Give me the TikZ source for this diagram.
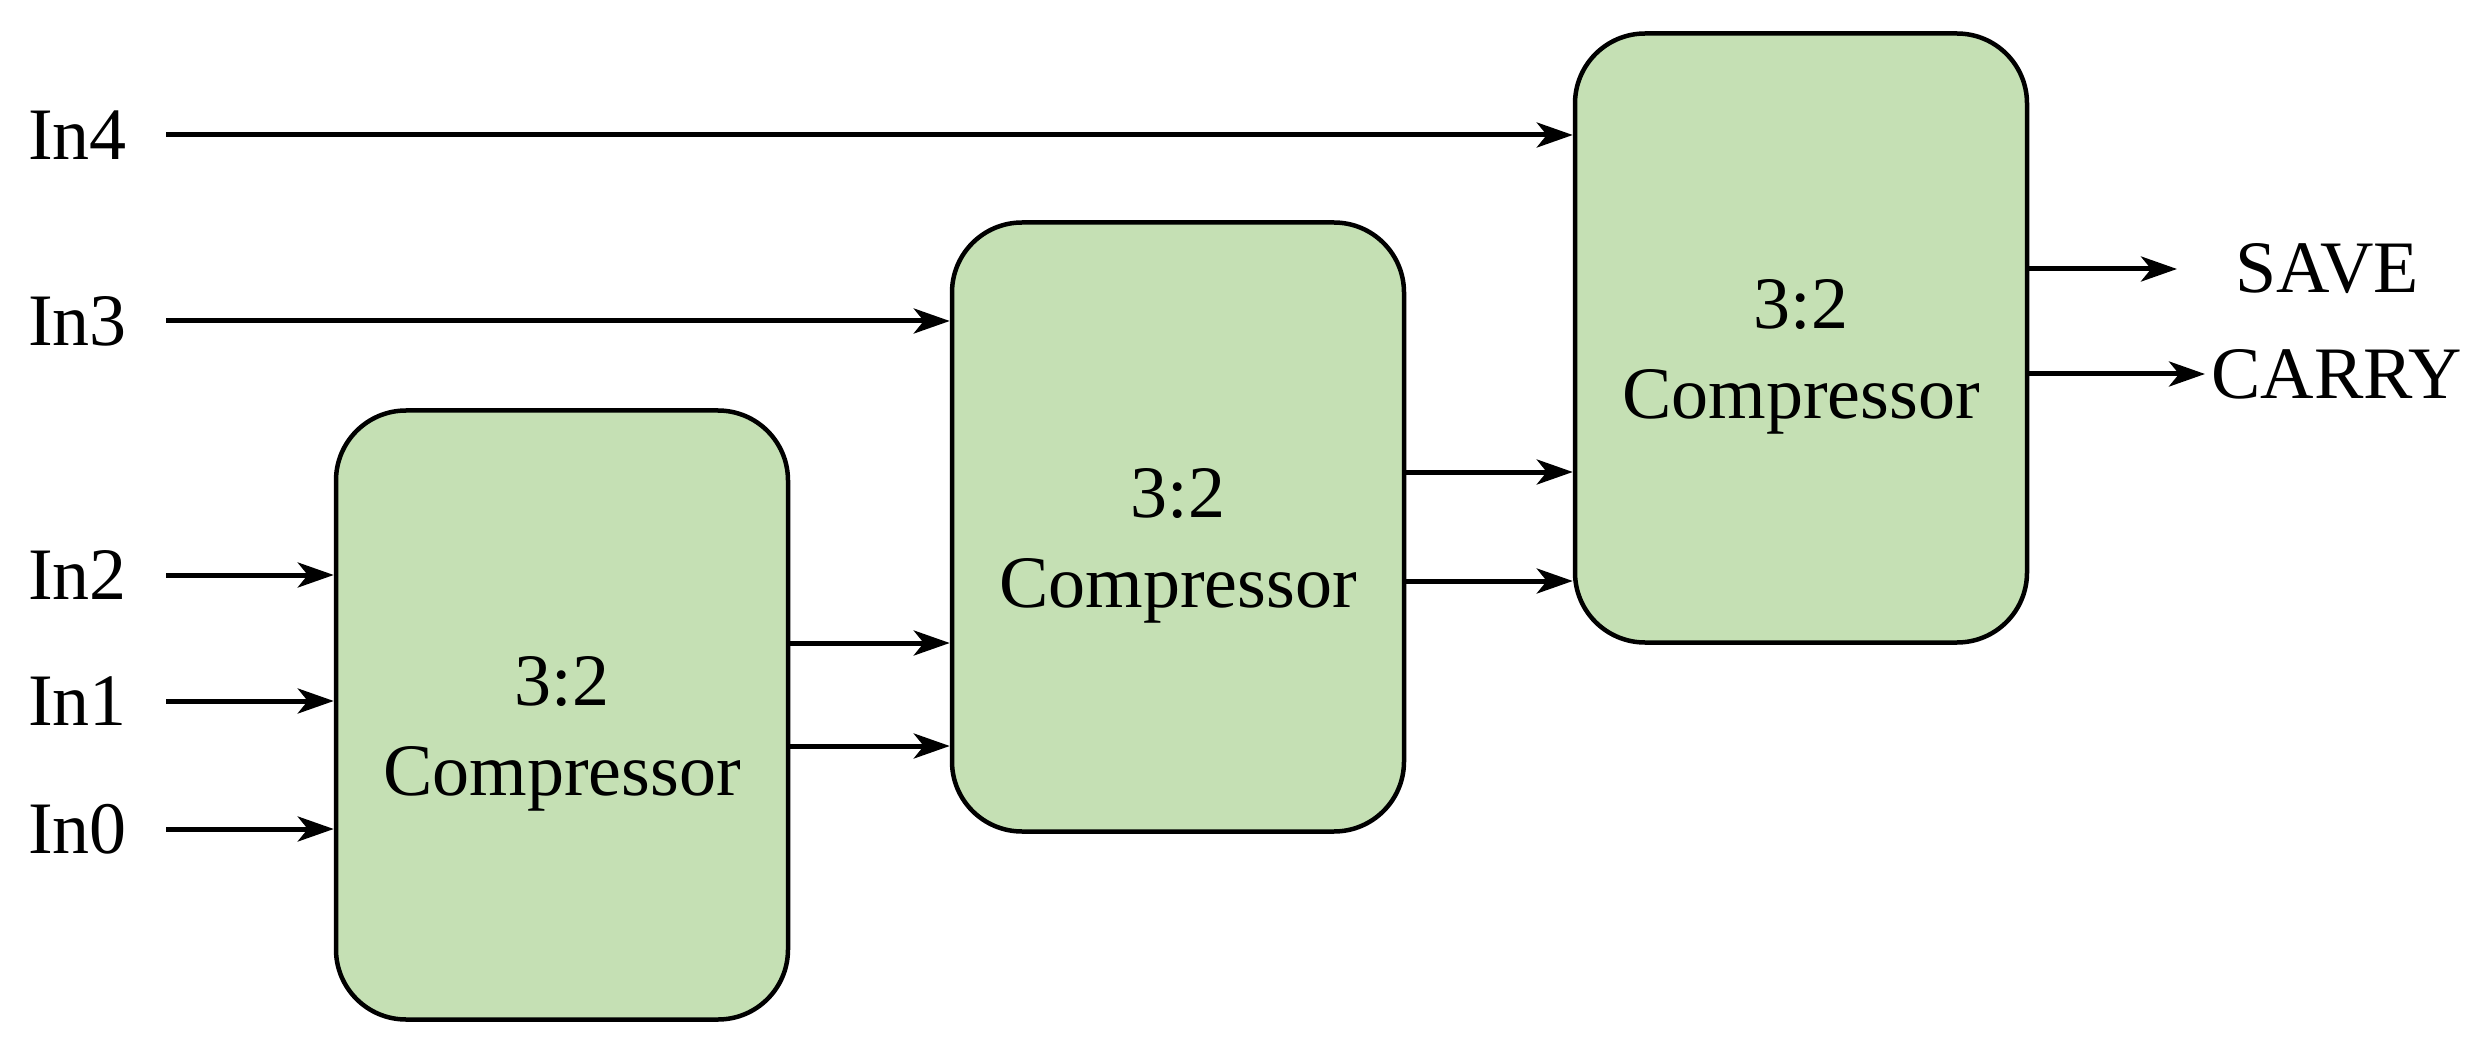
\documentclass[tikz,border=0pt]{standalone}
\usepackage{fontspec}
\setmainfont{Liberation Serif}
\usetikzlibrary{arrows.meta}
\definecolor{boxgreen}{RGB}{197,224,180}
\tikzset{
  comp/.style={draw=black, fill=boxgreen, line width=4.5pt, rounded corners=70pt,
    minimum width=452pt, minimum height=609pt, inner sep=0pt},
  comptext/.style={align=center, inner sep=0pt},
  lab/.style={inner sep=0pt, anchor=west},
  arr/.style={line width=5pt, -{Stealth[length=36pt, width=25pt, inset=10pt]}}
}
\begin{document}
\begin{tikzpicture}[x=1pt, y=-1pt, font=\fontsize{74}{90}\selectfont]
\useasboundingbox (0,0) rectangle (2482,1056);
% compressors
\node[comp] (c1) at (562,715) {};
\node[comp] (c2) at (1178,527) {};
\node[comp] (c3) at (1801,338) {};
\node[comptext] (t1) at ([yshift=-19pt]c1.center) {3:2\\Compressor};
\node[comptext] (t2) at ([yshift=-19pt]c2.center) {3:2\\Compressor};
\node[comptext] (t3) at ([yshift=-19pt]c3.center) {3:2\\Compressor};
% input labels
\node[lab] (l4) at (28,135) {In4};
\node[lab] (l3) at (28,321) {In3};
\node[lab] (l2) at (28,575) {In2};
\node[lab] (l1) at (28,701) {In1};
\node[lab] (l0) at (28,829) {In0};
% output labels
\node[lab] (sv) at (2235,269) {SAVE};
\node[lab] (cy) at (2211,374) {CARRY};
% start points
\coordinate (s4) at (166,135);
\coordinate (s3) at (166,321);
\coordinate (s2) at (166,575);
\coordinate (s1) at (166,701);
\coordinate (s0) at (166,829);
\coordinate (o1a) at (c1.east |- 0,643);
\coordinate (o1b) at (c1.east |- 0,746);
\coordinate (o2a) at (c2.east |- 0,472);
\coordinate (o2b) at (c2.east |- 0,581);
\coordinate (o3a) at (c3.east |- 0,269);
\coordinate (o3b) at (c3.east |- 0,374);
\coordinate (e3a) at (2177,269);
\coordinate (e3b) at (2205,374);
% connectors
\draw[arr] (s4) -- (s4 -| c3.west);
\draw[arr] (s3) -- (s3 -| c2.west);
\draw[arr] (s2) -- (s2 -| c1.west);
\draw[arr] (s1) -- (s1 -| c1.west);
\draw[arr] (s0) -- (s0 -| c1.west);
\draw[arr] (o1a) -- (o1a -| c2.west);
\draw[arr] (o1b) -- (o1b -| c2.west);
\draw[arr] (o2a) -- (o2a -| c3.west);
\draw[arr] (o2b) -- (o2b -| c3.west);
\draw[arr] (o3a) -- (e3a);
\draw[arr] (o3b) -- (e3b);
\end{tikzpicture}
\end{document}
